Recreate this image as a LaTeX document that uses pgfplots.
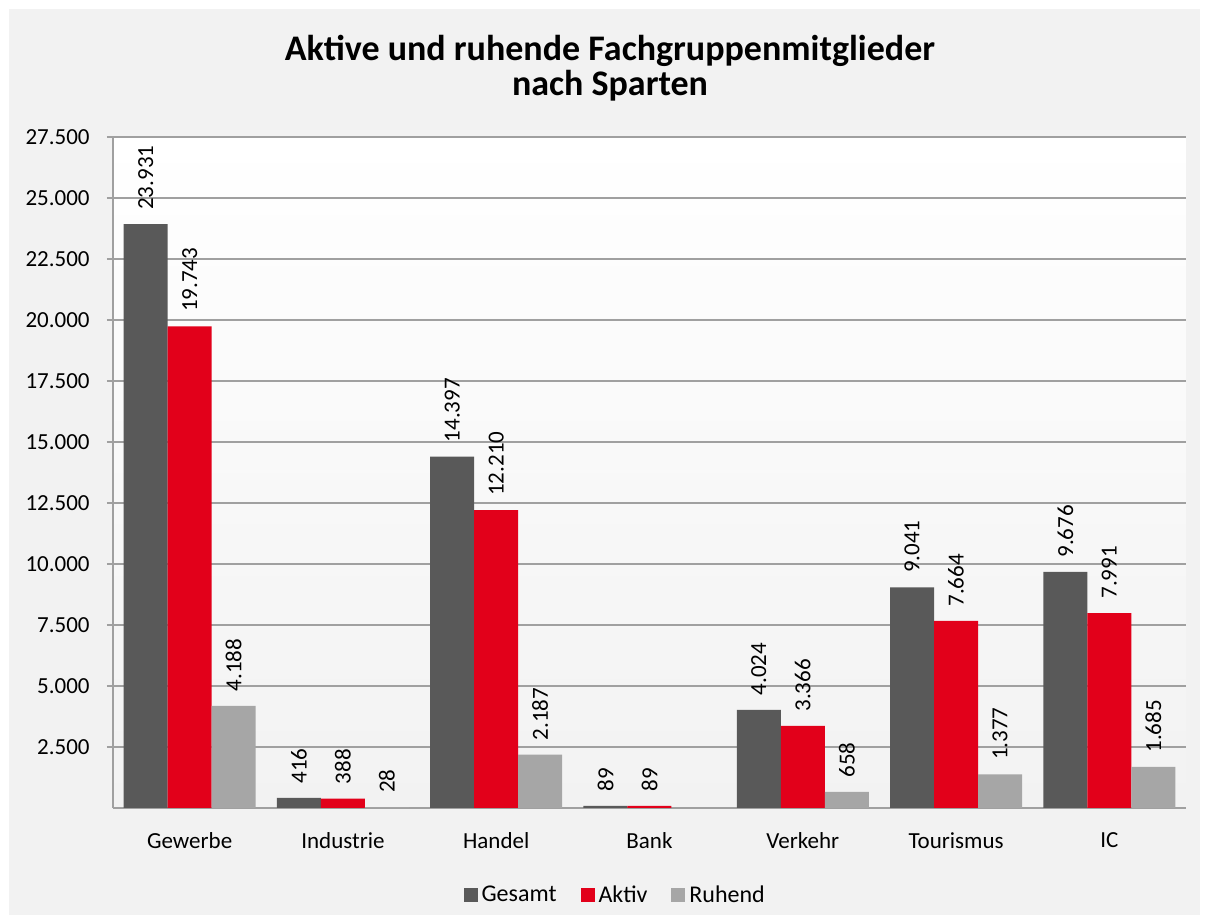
\documentclass[border=0pt]{standalone}
\usepackage{pgfplots}
\pgfplotsset{compat=1.18}
\usepackage{fontspec}
\setmainfont{Carlito}
\definecolor{cGes}{HTML}{595959}
\definecolor{cAkt}{HTML}{E2001A}
\definecolor{cRuh}{HTML}{A6A6A6}
\definecolor{cBg}{HTML}{F2F2F2}
\definecolor{cGrid}{HTML}{A0A0A0}
\newcommand\lbl{\fontsize{11.5}{14}\selectfont}
\begin{document}
\begin{tikzpicture}
% page and chart area
\fill[white] (0,0) rectangle (603pt,461pt);
\fill[cBg] (4.5pt,3.5pt) rectangle (600pt,456.5pt);
\node[align=center, font=\fontsize{18}{17.5}\selectfont\bfseries] at (305pt,427pt)
  {Aktive und ruhende Fachgruppenmitglieder\\nach Sparten};
\begin{axis}[
    at={(56.5pt,57pt)}, anchor=south west,
    scale only axis,
    width=536.5pt, height=335.5pt,
    ybar=0pt, bar width=22pt,
    xmin=-0.5, xmax=6.5, ymin=0, ymax=27500,
    enlarge x limits=false,
    xtick={0,...,6},
    xticklabels={Gewerbe,Industrie,Handel,Bank,Verkehr,Tourismus,IC},
    extra x ticks={-0.5,0.5,...,6.5},
    extra x tick labels={},
    extra x tick style={major tick length=6pt, grid=none},
    major x tick style={draw=none},
    ytick={2500,5000,...,27500},
    scaled ticks=false,
    /pgf/number format/.cd, fixed, 1000 sep={.}, assume math mode=true,
    /pgfplots/.cd,
    tick label style={font=\lbl},
    yticklabel style={inner sep=0pt, xshift=-8.5pt},
    xticklabel style={inner sep=0pt, yshift=-9pt},
    tick align=outside, major tick length=3pt,
    tick style={cGrid, line width=0.6pt},
    xtick pos=bottom, ytick pos=left,
    ymajorgrids, grid style={cGrid, line width=0.6pt},
    axis line style={cGrid, line width=0.6pt},
    axis x line*=bottom, axis y line*=left,
    axis background/.style={shade, top color=white, middle color=white, bottom color=cBg},
    nodes near coords,
    every node near coord/.append style={font=\lbl, yshift=7pt, rotate=90, anchor=west, inner sep=0pt},
    legend columns=3,
    legend style={at={(0.469,-0.130)}, anchor=center, draw=none, fill=none,
        font=\fontsize{12}{14}\selectfont,
        /tikz/every even column/.append style={column sep=10pt}},
    legend image code/.code={\fill[#1] (0pt,-3.5pt) rectangle (7pt,3.5pt);},
]
\addplot[fill=cGes, draw=none] coordinates {(0,23931) (1,416) (2,14397) (3,89) (4,4024) (5,9041) (6,9676)};
\addlegendentry{Gesamt}
\addplot[fill=cAkt, draw=none] coordinates {(0,19743) (1,388) (2,12210) (3,89) (4,3366) (5,7664) (6,7991)};
\addlegendentry{Aktiv}
\addplot[fill=cRuh, draw=none] coordinates {(0,4188) (1,28) (2,2187) (4,658) (5,1377) (6,1685)};
\addlegendentry{Ruhend}
\end{axis}
\end{tikzpicture}
\end{document}
